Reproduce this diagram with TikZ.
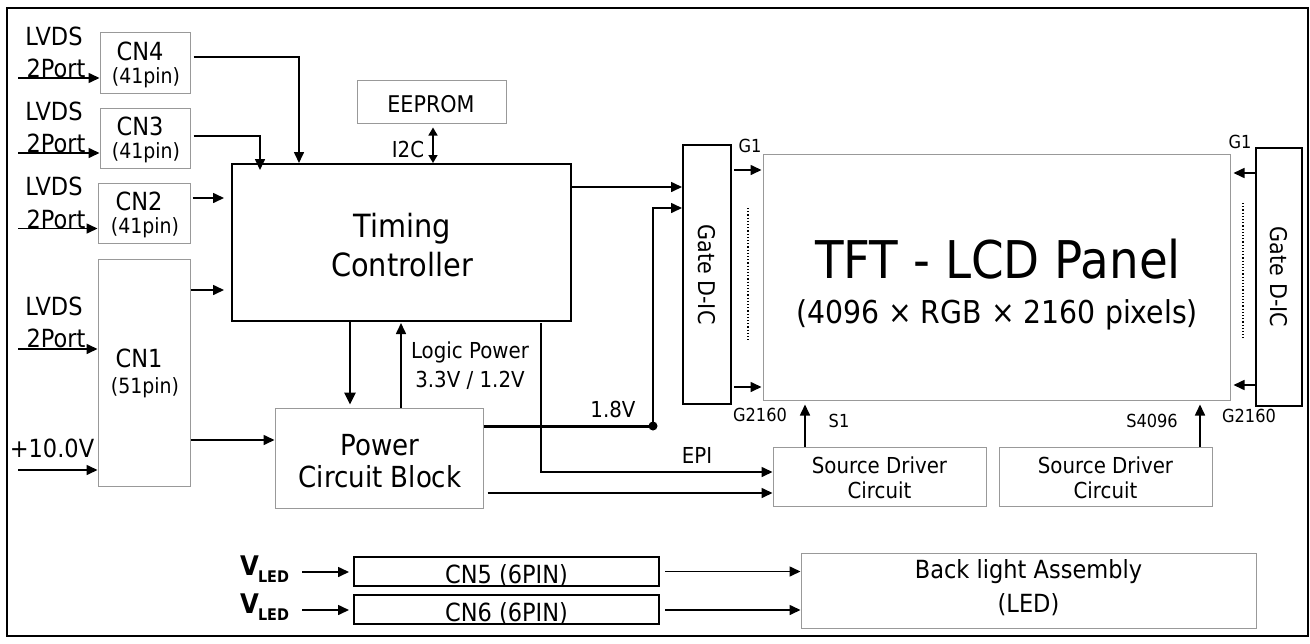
\documentclass[tikz,border=0pt]{standalone}
\usepackage{fontspec}
\setmainfont{DejaVu Sans}[FakeStretch=0.9]
\usetikzlibrary{arrows.meta,calc}
\newcommand\myfs[1]{\fontsize{#1}{#1}\selectfont}
\definecolor{boxgray}{gray}{0.6}
\tikzset{
  gbox/.style={draw=boxgray, line width=1pt, inner sep=0pt, fill=white},
  kbox/.style={draw=black, line width=2pt, inner sep=0pt, fill=white},
  txt/.style={inner sep=0pt, anchor=base},
  arr/.style={-{Triangle[length=11pt,width=10pt]}, line width=1.6pt},
  darr/.style={{Triangle[length=8pt,width=9pt]}-{Triangle[length=8pt,width=9pt]}, line width=1.6pt},
  thickarr/.style={-{Triangle[length=12pt,width=11pt]}, line width=2.6pt},
}
\begin{document}
\begin{tikzpicture}[x=1pt,y=-1pt]
\useasboundingbox (0,0) rectangle (1310,643);
\draw[line width=2pt] (7,8) rectangle (1308,636);

% boxes
\node[gbox, minimum width=90, minimum height=61] (cn4) at (145,62.5) {};
\node[gbox, minimum width=90, minimum height=60] (cn3) at (145,138) {};
\node[gbox, minimum width=92, minimum height=60] (cn2) at (144,213) {};
\node[gbox, minimum width=92, minimum height=227] (cn1) at (144,372.5) {};
\node[gbox, minimum width=149, minimum height=43] (ee) at (431.5,101.5) {};
\node[kbox, minimum width=339, minimum height=157] (tc) at (401.5,242.5) {};
\node[gbox, minimum width=208, minimum height=100] (pw) at (379,458) {};
\node[kbox, minimum width=48, minimum height=259] (gl) at (707,274.5) {};
\node[gbox, minimum width=467, minimum height=246] (pn) at (996.5,277) {};
\node[kbox, minimum width=46, minimum height=258] (gr) at (1279,277) {};
\node[gbox, minimum width=213, minimum height=59] (sd1) at (879.5,476.5) {};
\node[gbox, minimum width=213, minimum height=59] (sd2) at (1105.5,476.5) {};
\node[kbox, minimum width=305, minimum height=29] (cn5) at (506.5,571.5) {};
\node[kbox, minimum width=305, minimum height=29] (cn6) at (506.5,609.5) {};
\node[gbox, minimum width=455, minimum height=75] (bl) at (1028.5,590.5) {};

% connector texts
\node[txt, font=\myfs{25}] (tcn4) at (140,60) {CN4};
\node[txt, font=\myfs{21}] (pcn4) at (146,83) {(41pin)};
\node[txt, font=\myfs{25}] (tcn3) at (140,135) {CN3};
\node[txt, font=\myfs{21}] (pcn3) at (146,158) {(41pin)};
\node[txt, font=\myfs{25}] (tcn2) at (139,210) {CN2};
\node[txt, font=\myfs{21}] (pcn2) at (145,233) {(41pin)};
\node[txt, font=\myfs{25}] (tcn1) at (139,367) {CN1};
\node[txt, font=\myfs{21}] (pcn1) at (145,393) {(51pin)};

% LVDS labels
\node[txt, font=\myfs{25}] (lv4) at (54,45) {LVDS};
\node[txt, font=\myfs{25}] (po4) at (56,77) {2Port};
\node[txt, font=\myfs{25}] (lv3) at (54,120) {LVDS};
\node[txt, font=\myfs{25}] (po3) at (56,152) {2Port};
\node[txt, font=\myfs{25}] (lv2) at (54,195) {LVDS};
\node[txt, font=\myfs{25}] (po2) at (56,228) {2Port};
\node[txt, font=\myfs{25}] (lv1) at (54,315) {LVDS};
\node[txt, font=\myfs{25}] (po1) at (56,347) {2Port};
\node[txt, font=\myfs{25}] (pv) at (52,457) {+10.0V};

\coordinate (in4) at (18,78);
\coordinate (in3) at (18,153);
\coordinate (in2) at (18,228.5);
\coordinate (in1) at (18,349);
\coordinate (in0) at (18,470);
\draw[arr] (in4) -- (in4 -| cn4.west);
\draw[arr] (in3) -- (in3 -| cn3.west);
\draw[arr] (in2) -- (in2 -| cn2.west);
\draw[arr] (in1) -- (in1 -| cn1.west);
\draw[arr] (in0) -- (in0 -| cn1.west);

% other texts
\node[txt, font=\myfs{23}] (tee) at (431,112) {EEPROM};
\node[txt, font=\myfs{22}] (ti2c) at (408,157) {I2C};
\node[txt, font=\myfs{32}] (ttc1) at (402,237) {Timing};
\node[txt, font=\myfs{32}] (ttc2) at (402,276) {Controller};
\node[txt, font=\myfs{22}] (tlp1) at (470,358) {Logic Power};
\node[txt, font=\myfs{22}] (tlp2) at (470,387) {3.3V / 1.2V};
\node[txt, font=\myfs{29}] (tpw1) at (380,455) {Power};
\node[txt, font=\myfs{29}] (tpw2) at (380,487) {Circuit Block};
\node[txt, font=\myfs{22}] (t18) at (613,417) {1.8V};
\node[txt, font=\myfs{22}] (tepi) at (697,463) {EPI};
\node[txt, font=\myfs{18}] (tg1l) at (750,152) {G1};
\node[txt, font=\myfs{18}] (tg2l) at (760,421) {G2160};
\node[txt, font=\myfs{18}] (ts1) at (839,427) {S1};
\node[txt, font=\myfs{18}] (ts4) at (1152,427) {S4096};
\node[txt, font=\myfs{18}] (tg1r) at (1240,148) {G1};
\node[txt, font=\myfs{18}] (tg2r) at (1249,422) {G2160};
\node[txt, font=\myfs{52}] (tpn1) at (998,278) {TFT - LCD Panel};
\node[txt, font=\myfs{31.5}] (tpn2) at (997,323) {(4096 × RGB × 2160 pixels)};
\node[inner sep=0pt, font=\myfs{23}, rotate=-90] (tgl) at (gl.center) {Gate D-IC};
\node[inner sep=0pt, font=\myfs{23}, rotate=-90] (tgr) at (gr.center) {Gate D-IC};
\node[txt, font=\myfs{22}] (tsd1a) at (879.5,473) {Source Driver};
\node[txt, font=\myfs{22}] (tsd1b) at (879.5,498) {Circuit};
\node[txt, font=\myfs{22}] (tsd2a) at (1105.5,473) {Source Driver};
\node[txt, font=\myfs{22}] (tsd2b) at (1105.5,498) {Circuit};
\node[txt, font=\myfs{25}] (tcn5) at (506.5,583) {CN5 (6PIN)};
\node[txt, font=\myfs{25}] (tcn6) at (506.5,621) {CN6 (6PIN)};
\node[txt, font=\myfs{25}] (tbl1) at (1028.5,578) {Back light Assembly};
\node[txt, font=\myfs{25}] (tbl2) at (1028.5,612) {(LED)};
\node[txt, anchor=base west, font=\bfseries] (vl5) at (240,575) {\myfs{27}V\kern-1pt\myfs{16}\raisebox{-7pt}{LED}};
\node[txt, anchor=base west, font=\bfseries] (vl6) at (240,613) {\myfs{27}V\kern-1pt\myfs{16}\raisebox{-7pt}{LED}};

% connectors from connectors to TCON
\draw[arr] ([xshift=3pt,yshift=5.5pt]cn4.east) -| ([xshift=68pt]tc.north west);
\draw[arr] ([xshift=3pt,yshift=2pt]cn3.east) -| ([xshift=29pt,yshift=-7pt]tc.north west);
\coordinate (tcl) at ([xshift=-7pt]tc.west);
\coordinate (c2o) at ([xshift=2pt,yshift=15pt]cn2.east);
\coordinate (c1o) at ([yshift=82.5pt]cn1.east);
\coordinate (c1p) at ([yshift=-67.5pt]cn1.east);
\draw[arr] (c2o) -- (c2o -| tcl);
\draw[arr] (c1o) -- (c1o -| tcl);
\draw[arr] (c1p) -- (c1p -| pw.west);

% EEPROM
\coordinate (eeo) at ([xshift=1.5pt,yshift=-4pt]ee.south);
\draw[darr] (eeo) -- (eeo |- tc.north);

% TCON <-> power
\coordinate (tcp) at ([xshift=-51.5pt]tc.south);
\draw[thickarr] (tcp) -- ([yshift=3pt]tcp |- pw.north);
\coordinate (pwt) at ([xshift=22pt]pw.north);
\draw[arr] (pwt) -- ([yshift=-1pt]pwt |- tc.south);

% TCON -> gate
\coordinate (tcg) at ([yshift=55.5pt]tc.east);
\draw[arr] (tcg) -- (tcg -| gl.west);

% 1.8V
\coordinate (p18) at ([yshift=32pt]pw.east);
\coordinate (dot) at (653,426);
\coordinate (g18) at ([yshift=66.5pt]gl.west);
\draw[line width=3pt] (p18) -- (dot);
\draw[arr] (dot) |- (g18);
\fill (dot) circle (4.5pt);

% EPI
\coordinate (epi) at ([xshift=139.5pt,yshift=-1pt]tc.south);
\draw[arr] (epi) |- ([yshift=4.5pt]sd1.west);
\coordinate (pws) at ([xshift=4pt,yshift=-35pt]pw.east);
\draw[arr] (pws) -- (pws -| sd1.west);

% gate -> panel
\coordinate (gl1) at ([xshift=2pt,yshift=104.5pt]gl.east);
\coordinate (gl2) at ([xshift=2pt,yshift=-112.5pt]gl.east);
\draw[arr] (gl1) -- ([xshift=-1pt]gl1 -| pn.west);
\draw[arr] (gl2) -- ([xshift=-1pt]gl2 -| pn.west);
\coordinate (gr1) at ([yshift=104pt]gr.west);
\coordinate (gr2) at ([yshift=-108pt]gr.west);
\draw[arr] (gr1) -- ([xshift=3pt]gr1 -| pn.east);
\draw[arr] (gr2) -- ([xshift=3pt]gr2 -| pn.east);
\draw[dotted, line width=1.2pt] (748,208) -- (748,342);
\draw[dotted, line width=1.2pt] (1243,203) -- (1243,338);

% source -> panel
\coordinate (s1o) at ([xshift=-74.5pt]sd1.north);
\coordinate (s4o) at ([xshift=94.5pt]sd2.north);
\draw[arr] (s1o) -- ([yshift=-4pt]s1o |- pn.south);
\draw[arr] (s4o) -- ([yshift=-4pt]s4o |- pn.south);

% LED
\coordinate (v5) at (302,572);
\coordinate (v6) at (302,610);
\draw[arr] (v5) -- ([xshift=-4pt]v5 -| cn5.west);
\draw[arr] (v6) -- ([xshift=-4pt]v6 -| cn6.west);
\coordinate (c5o) at ([xshift=5pt]cn5.east);
\coordinate (c6o) at ([xshift=5pt,yshift=-0.5pt]cn6.east);
\draw[arr] (c5o) -- (c5o -| bl.west);
\draw[arr] (c6o) -- (c6o -| bl.west);
\end{tikzpicture}
\end{document}
